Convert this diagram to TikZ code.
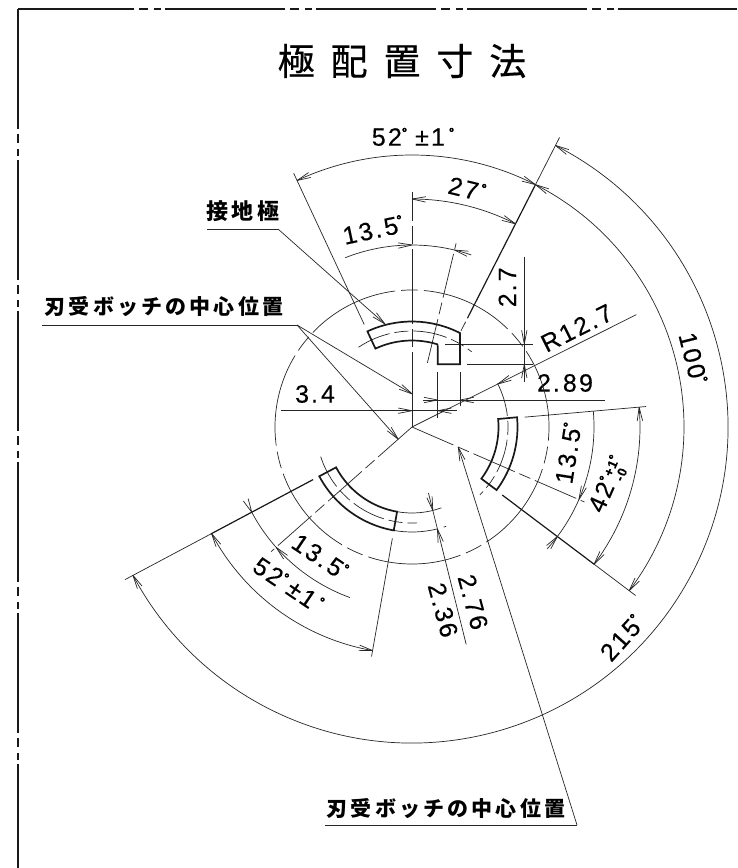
\documentclass[tikz,border=0pt]{standalone}
\usepackage{fontspec}
\usetikzlibrary{calc}
\setmainfont{Liberation Sans}
\newfontfamily\dm[LetterSpace=9,FakeBold=0.35]{Liberation Sans}
\newfontfamily\dgrfont[FakeBold=5]{Liberation Sans}
\newfontfamily\jpt[LetterSpace=43,FakeBold=0.5]{Noto Sans CJK JP}
\newfontfamily\jpb[LetterSpace=15]{Noto Sans CJK JP}
\newcommand{\dgr}{\raisebox{0.34em}{\dgrfont\fontsize{13}{13}\selectfont °}}
\newcommand{\dk}{\kern2pt.\kern3pt}
\newcommand{\barbs}[2]{\draw[dimline] (#1) -- ($(#1)!14pt!11:(#2)$) (#1) -- ($(#1)!14pt!-11:(#2)$);}
\newcommand{\arcarrow}[3]{\pgfmathsetmacro\dirA{#1+(#3)*(90+(7/#2)*57.3)}%
  \draw[dimline] (#1:#2) -- ++(\dirA+11:14) (#1:#2) -- ++(\dirA-11:14);}
\newcommand{\parc}[4]{\draw[#1] (#2:#4) arc[start angle=#2,end angle=#3,radius=#4];}
\tikzset{
  dimline/.style={line width=0.7pt,black!85},
  ray/.style={line width=1.2pt,black!90},
  pole/.style={line width=1.7pt,black!90,line join=miter},
  chain/.style={line width=0.7pt,black!85,dash pattern=on 45pt off 5pt on 12pt off 5pt},
  vchain/.style={line width=0.7pt,black!85,dash pattern=on 75pt off 5pt on 18pt off 5pt},
  mid/.style={line width=0.7pt,black!85,dash pattern=on 34pt off 5pt on 14pt off 5pt},
  circ/.style={line width=0.7pt,black!85,dash pattern=on 94pt off 6pt on 17pt off 6pt},
  frameline/.style={line width=1.2pt,black!90},
  dimtext/.style={font=\dm\fontsize{25}{25}\selectfont,inner sep=0pt},
  jplabel/.style={font=\jpb\bfseries\fontsize{21}{21}\selectfont,inner sep=0pt},
}
\begin{document}
\begin{tikzpicture}[x=1pt,y=1pt]
\useasboundingbox (0,0) rectangle (737,-868);
\fill[white] (0,0) rectangle (737,-868);
% frame
\draw[frameline,dash pattern=on 120pt off 5pt on 9pt off 6pt on 7pt off 4pt,dash phase=4pt] (18,-9) -- (737,-9);
\draw[frameline,dash pattern=on 120pt off 5pt on 9pt off 6pt on 7pt off 4pt] (18,-9) -- (18,-868);
% title
\node[inner sep=0pt,font=\jpt\fontsize{37}{37}\selectfont] (title) at (402,-61) {極配置寸法};
% labels
\node[jplabel,font=\jpb\bfseries\fontsize{22}{22}\selectfont] (earth) at (243,-211) {接地極};
\node[jplabel] (centerA) at (164,-307) {刃受ボッチの中心位置};
\node[jplabel] (centerB) at (446,-809) {刃受ボッチの中心位置};
\coordinate (earthL) at (207,-229);
\coordinate (earthR) at (278,-229);
\coordinate (centerAL) at (42,-325);
\coordinate (centerAR) at (297,-325);
\coordinate (centerBL) at (325,-825);
\coordinate (centerBR) at (577,-825);
\draw[dimline] (earthL) -- (earthR);
\draw[dimline] (centerAL) -- (centerAR);
\draw[dimline] (centerBL) -- (centerBR);
\coordinate (tipE) at (385,-324);
\coordinate (tipA1) at (412.3,-394);
\coordinate (tipA2) at (398.3,-439.3);
\coordinate (tipB) at (458.3,-447.3);
\draw[dimline] (earthR) -- (tipE);
\draw[dimline] (centerAR) -- (tipA1);
\draw[dimline] (centerAR) -- (tipA2);
\draw[dimline] (centerBR) -- (tipB);
\barbs{tipE}{earthR}
\barbs{tipA1}{centerAR}
\barbs{tipA2}{centerAR}
\barbs{tipB}{centerBR}
% straight dimensions (absolute)
\coordinate (d27t) at (524.3,-256.7);
\coordinate (d27b) at (524.3,-381.7);
\coordinate (d27a) at (524.3,-344);
\coordinate (d27c) at (524.3,-364.3);
\draw[dimline] (d27t) -- (d27b);
\barbs{d27a}{d27t}
\barbs{d27c}{d27b}
\draw[dimline] (445,-344) -- (533,-344);
\draw[dimline] (467,-364.3) -- (533,-364.3);
\coordinate (d289l) at (423.3,-400);
\coordinate (d289r) at (605,-400);
\coordinate (d289a) at (437.7,-400);
\coordinate (d289c) at (460,-400);
\draw[dimline] (d289l) -- (d289r);
\barbs{d289a}{d289l}
\barbs{d289c}{d289r}
\draw[dimline] (437.7,-372) -- (437.7,-418);
\draw[dimline] (460,-372) -- (460,-406);
\coordinate (d34l) at (281,-410.7);
\coordinate (d34r) at (456.7,-410.7);
\coordinate (d34a) at (412,-410.7);
\coordinate (d34c) at (437.7,-410.7);
\draw[dimline] (d34l) -- (d34r);
\barbs{d34a}{d34l}
\barbs{d34c}{d34r}
% dimension texts
\node[dimtext] (t5201) at (413,-137) {52\dgr\kern8pt ±1\kern4pt\dgr};
\node[dimtext,rotate=-13.5] (t27) at (467,-189) {27\kern2pt\dgr};
\node[dimtext,rotate=12] (t135a) at (373,-230) {13\dk 5\dgr};
\node[dimtext,rotate=90] (t27b) at (507.3,-287.3) {2\dk 7};
\node[dimtext,rotate=26.6] (tR) at (576.7,-328) {R12\dk 7};
\node[dimtext] (t289) at (565,-383) {2\dk 89};
\node[dimtext] (t34) at (315,-394) {3\dk 4};
\node[dimtext,rotate=81] (t135b) at (568.3,-453.3) {13\dk 5\dgr};
\node[dimtext,rotate=66] (t42) at (609,-485) {42\dgr\kern2pt\raisebox{-5pt}{\fontsize{13}{13}\selectfont\bfseries\shortstack[l]{+1\\-0}}\dgr};
\node[dimtext,rotate=48] (t215) at (622,-638) {215\dgr};
\node[dimtext,rotate=-76] (t100) at (693,-358) {100\dgr};
\node[dimtext,rotate=-34] (t135c) at (320,-556.7) {13\dk 5\dgr};
\node[dimtext,rotate=-34] (t52b) at (288.3,-585) {52\dgr\kern5pt ±1\kern3pt\dgr};
\node[dimtext,rotate=-75] (t276) at (473,-602) {2\dk 76};
\node[dimtext,rotate=-75] (t236) at (443,-610) {2.\kern2pt 36};
% polar part around the centre
\begin{scope}[shift={(412,-427)}]
\coordinate (C) at (0,0);
% big circle
\parc{circ}{85}{-275}{137}
% centre lines
\draw[vchain] (C) -- (90:235);
\draw[chain] (C) -- (-23.5:188);
\draw[chain] (C) -- (-138.5:188);
\draw[chain] (76.5:66) -- (76.5:189);
\draw[dimline] (C) -- (26.6:251);
\draw[dimline] (-76:68) -- (-76:224);
% rays
\draw[dimline] (63:108) -- (63:118);
\draw[ray] (63:122) -- (63:272);
\draw[dimline] (63:272) -- (63:325);
\draw[dimline] (115:113) -- (115:280);
\draw[dimline] (5:113) -- (5:235);
\draw[ray] (-37:113) -- (-37:228);
\draw[dimline] (-37:228) -- (-37:280);
\draw[ray] (-152:112) -- (-152:228);
\draw[dimline] (-152:228) -- (-152:325);
\draw[dimline] (-100:113) -- (-100:233);
% arcs and arrows
\parc{dimline}{63}{115}{272}
\arcarrow{63}{272}{1}\arcarrow{115}{272}{-1}
\parc{dimline}{63}{-37}{272}
\arcarrow{63}{272}{-1}\arcarrow{-37}{272}{1}
\parc{dimline}{63}{-152}{316}
\arcarrow{63}{316}{-1}\arcarrow{-152}{316}{1}
\parc{dimline}{63}{90}{228}
\arcarrow{63}{228}{1}\arcarrow{90}{228}{-1}
\parc{dimline}{71}{111.5}{182}
\arcarrow{90}{182}{1}\arcarrow{76.5}{182}{-1}
\parc{dimline}{5}{-37}{228}
\arcarrow{5}{228}{-1}\arcarrow{-37}{228}{1}
\parc{dimline}{5}{-42}{182}
\arcarrow{-23.5}{182}{1}\arcarrow{-37}{182}{-1}
\parc{dimline}{-152}{-100}{227}
\arcarrow{-152}{227}{1}\arcarrow{-100}{227}{-1}
\parc{dimline}{-152}{-110}{181.5}
\arcarrow{-152}{181.5}{-1}\arcarrow{-138.5}{181.5}{1}
% radial arrows
\barbs{26.6:96}{26.6:251}
\barbs{-76:86}{-76:60}
\barbs{-76:105}{-76:224}
% extension arcs of the lower pole
\parc{dimline}{-100}{-70}{86}
\parc{dimline}{-100}{-76}{105}
\parc{dimline}{-71}{-72.5}{105}
% mid lines of the poles
\parc{mid}{123.8}{51.6}{96}
\parc{mid}{27}{-45}{96}
\parc{mid}{-162}{-87}{96}
% poles
\draw[pole] (115:86.5) -- (115:105.5) arc[start angle=115,end angle=63,radius=105.5]
  -- (48,62.7) -- (25.7,62.7) -- (25.7,80) .. controls (25.7,82) and (25.5,82.5) .. (73:86.5)
  arc[start angle=73,end angle=115,radius=86.5] -- cycle;
\draw[pole] (5.3:86.5) -- (5.3:105.5) arc[start angle=5.3,end angle=-36.7,radius=105.5]
  -- (-36.7:86.5) arc[start angle=-36.7,end angle=5.3,radius=86.5] -- cycle;
\draw[pole] (-152:86) -- (-152:105) arc[start angle=-152,end angle=-100,radius=105]
  -- (-100:86) arc[start angle=-100,end angle=-152,radius=86] -- cycle;
\end{scope}
\end{tikzpicture}
\end{document}
